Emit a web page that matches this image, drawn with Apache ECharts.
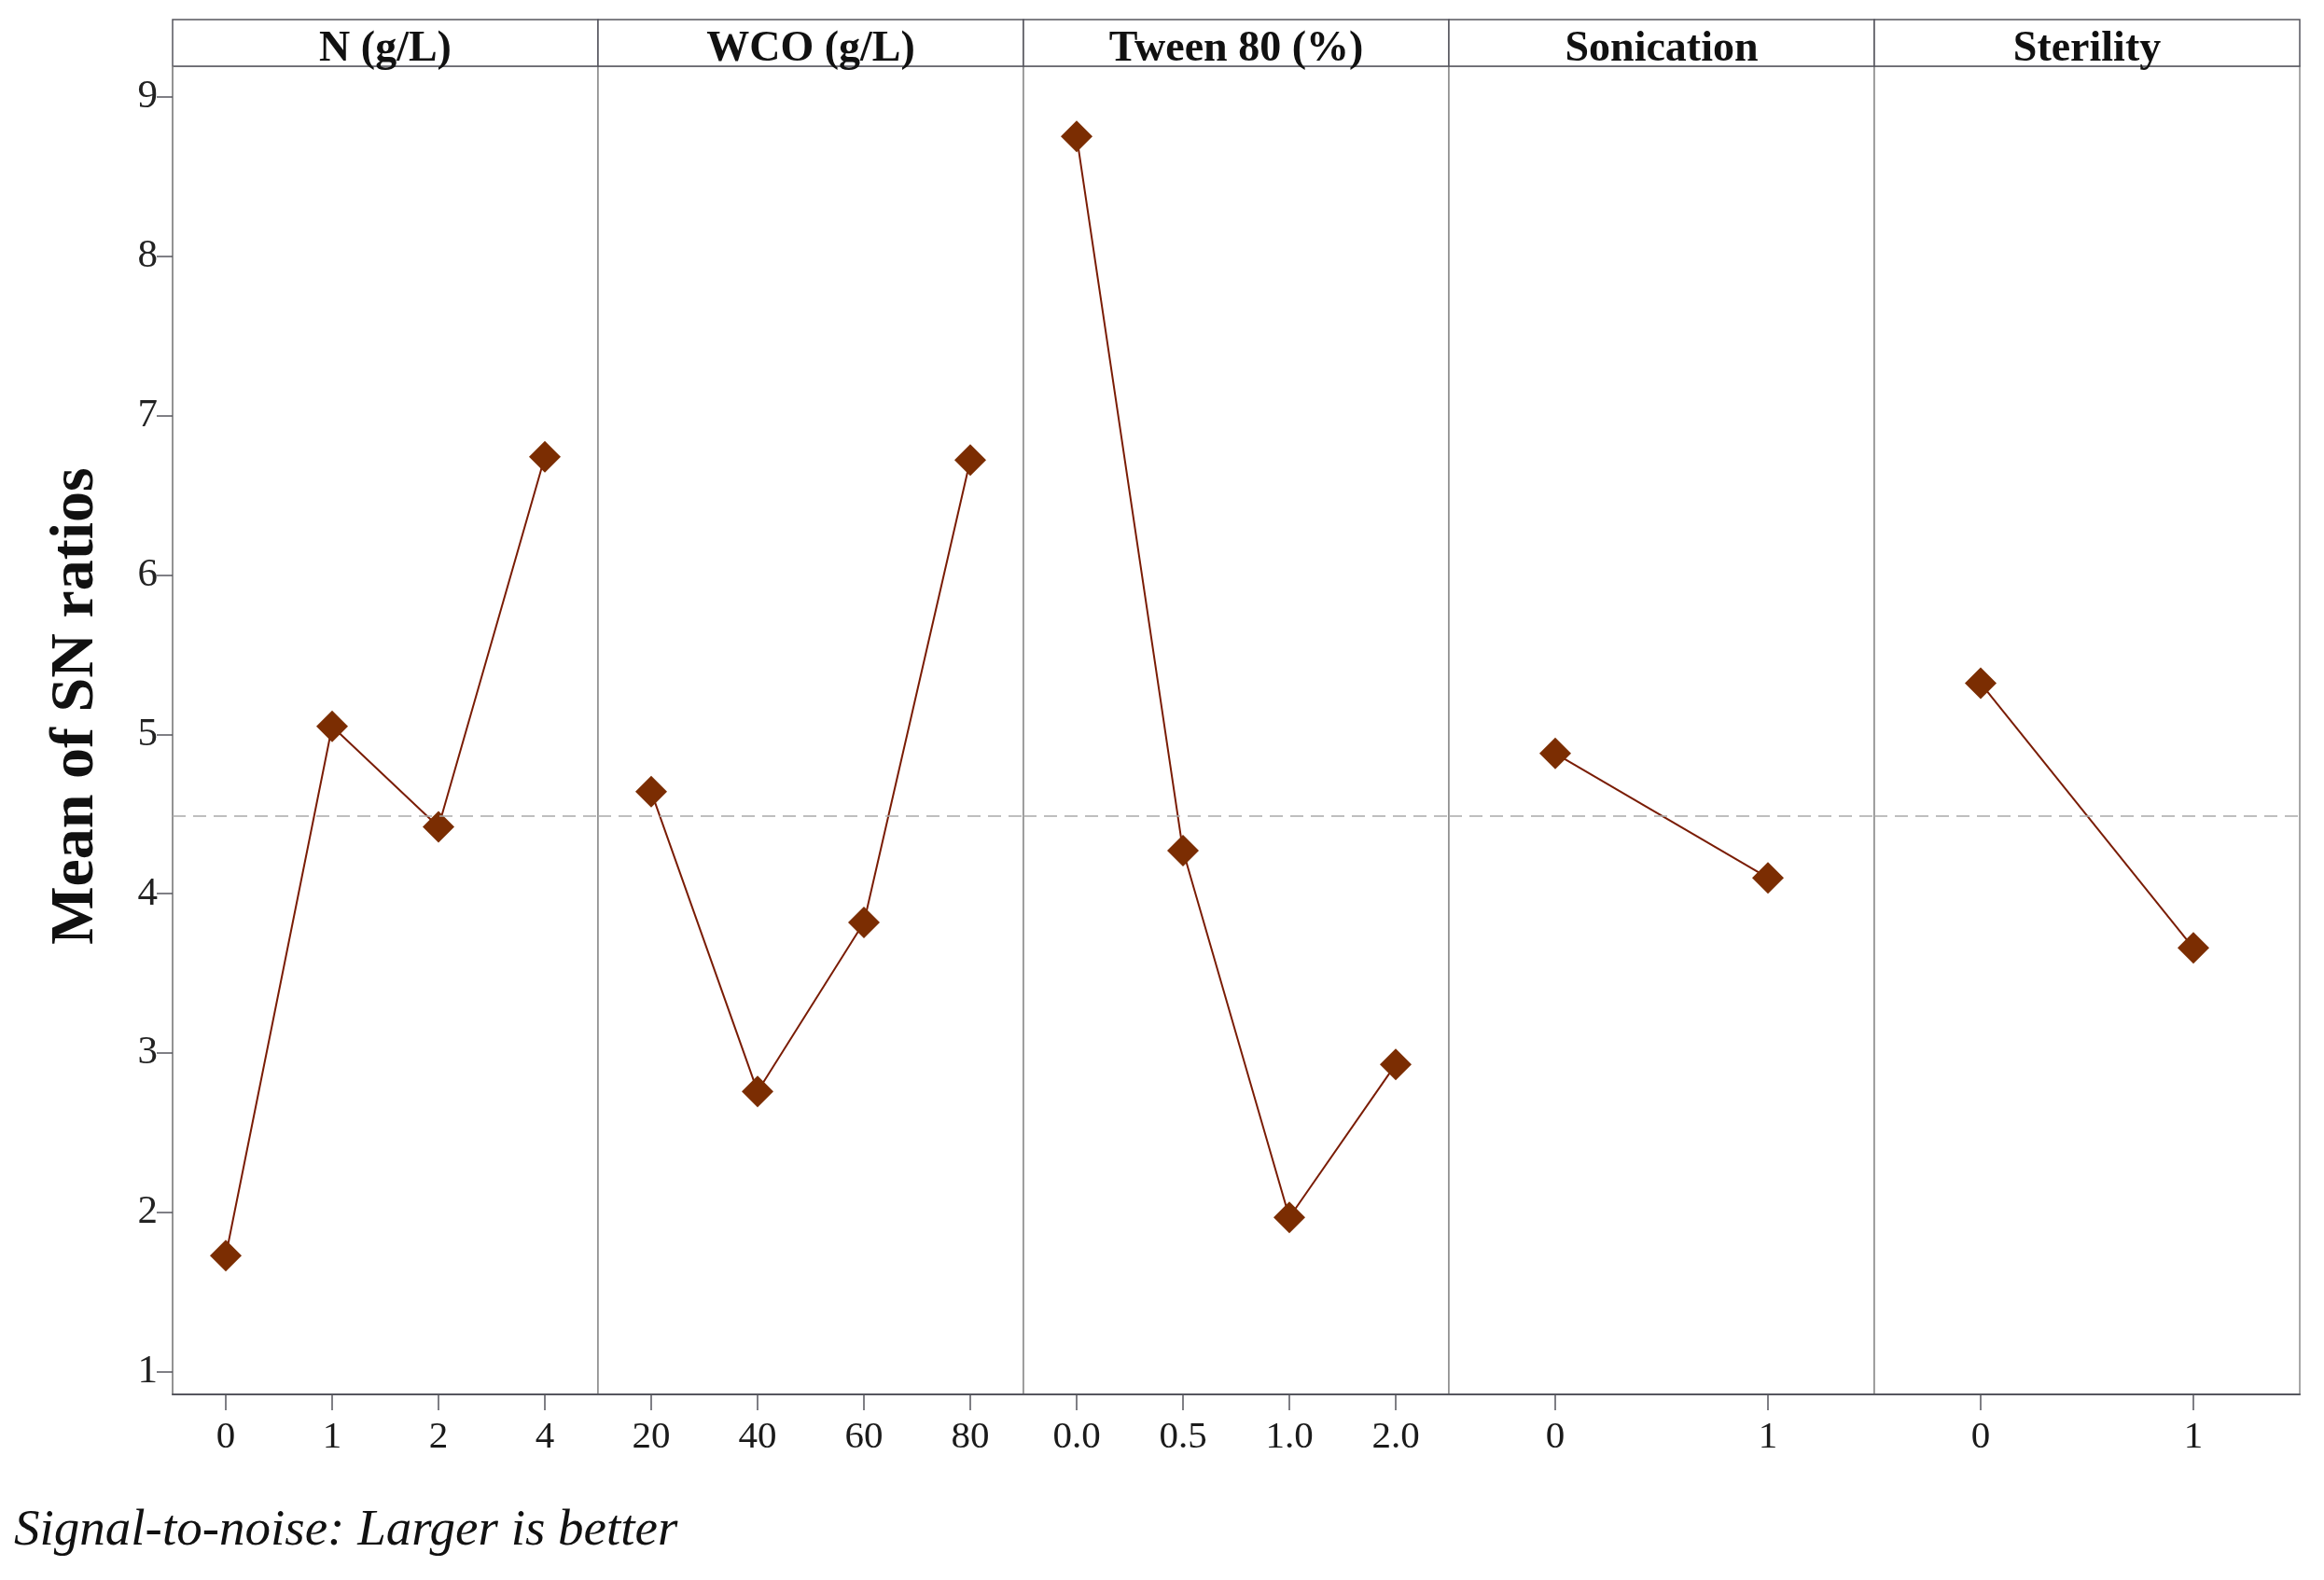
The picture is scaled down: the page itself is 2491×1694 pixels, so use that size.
<!DOCTYPE html>
<html>
<head>
<meta charset="utf-8">
<script src="https://cdn.jsdelivr.net/npm/echarts@6/dist/echarts.min.js"></script>
<style>
  html, body { margin: 0; padding: 0; background: #fff; }
  #chart { width: 2491px; height: 1694px; }
</style>
</head>
<body>
<div id="chart"></div>
<script>
// main effects plot for SN ratios (Taguchi)
const factors = ["N (g/L)", "WCO (g/L)", "Tween 80 (%)", "Sonication", "Sterility"];

const nLevels = ["0", "1", "2", "4"];
const nSN = [1.73, 5.05, 4.42, 6.74];

const wcoLevels = ["20", "40", "60", "80"];
const wcoSN = [4.64, 2.76, 3.82, 6.72];

const tweenLevels = ["0.0", "0.5", "1.0", "2.0"];
const tweenSN = [8.75, 4.27, 1.97, 2.93];

const sonLevels = ["0", "1"];
const sonSN = [4.88, 4.10];

const sterLevels = ["0", "1"];
const sterSN = [5.32, 3.66];

const yTicks = [1, 2, 3, 4, 5, 6, 7, 8, 9];

const levels = [nLevels, wcoLevels, tweenLevels, sonLevels, sterLevels];
const values = [nSN, wcoSN, tweenSN, sonSN, sterSN];

// grand mean of the SN ratios (mean of each factor's level means)
const grandMean = values.reduce((s, v) => s + v.reduce((a, b) => a + b, 0) / v.length, 0) / values.length;

const serif = "Liberation Serif";
const left0 = 185, panelW = 456, plotTop = 71, plotH = 1424, headH = 50;

var myChart = echarts.init(document.getElementById("chart"));

const grids = [], xAxes = [], yAxes = [], series = [], graphics = [];

factors.forEach((name, i) => {
  grids.push({
    left: left0 + i * panelW, top: plotTop, width: panelW, height: plotH,
    show: true, borderColor: "#8c8c8c", borderWidth: 1.5, backgroundColor: "#fff"
  });
  xAxes.push({
    type: "category", gridIndex: i, data: levels[i], boundaryGap: true,
    axisLine: { show: true, lineStyle: { color: "#55565e", width: 2 } },
    axisTick: { show: true, alignWithLabel: true, length: 17, lineStyle: { color: "#55565e", width: 1.5 } },
    axisLabel: { fontFamily: serif, fontSize: 41, color: "#1a1a1a", margin: 26 },
    splitLine: { show: false }
  });
  yAxes.push({
    type: "value", gridIndex: i, min: 0.86, max: 9.19,
    axisLine: { show: i === 0, lineStyle: { color: "#8c8c8c", width: 1.5 } },
    axisTick: { show: i === 0, length: 17, customValues: yTicks, lineStyle: { color: "#55565e", width: 1.5 } },
    axisLabel: { show: i === 0, customValues: yTicks, fontFamily: serif, fontSize: 43, color: "#222", margin: 16 },
    splitLine: { show: false }
  });
  series.push({
    type: "line", xAxisIndex: i, yAxisIndex: i, data: values[i],
    symbol: "diamond", symbolSize: 34, showSymbol: true,
    itemStyle: { color: "#7b2d02" },
    lineStyle: { color: "#7a1c04", width: 2 },
    markLine: {
      silent: true, symbol: "none", label: { show: false },
      lineStyle: { type: [14, 8], color: "#ababab", width: 1.5 },
      data: [{ yAxis: grandMean }]
    },
    z: 3
  });
  // panel header box
  graphics.push({
    type: "rect",
    shape: { x: left0 + i * panelW, y: plotTop - headH, width: panelW, height: headH },
    style: { fill: "#fff", stroke: "#55565e", lineWidth: 1.5 }
  });
  graphics.push({
    type: "text",
    x: left0 + i * panelW + panelW / 2, y: plotTop - headH / 2 + 7,
    style: {
      text: name, fill: "#111", font: "bold 46px " + serif,
      textAlign: "center", textVerticalAlign: "middle"
    },
    z: 10
  });
});

// y axis title
graphics.push({
  type: "text",
  x: 82, y: 757, rotation: Math.PI / 2,
  style: {
    text: "Mean of SN ratios", fill: "#111", font: "bold 66px " + serif,
    textAlign: "center", textVerticalAlign: "middle"
  }
});
// footnote
graphics.push({
  type: "text",
  left: 15, top: 1614,
  style: { text: "Signal-to-noise: Larger is better", fill: "#111", font: "italic 55px " + serif }
});

myChart.setOption({
  animation: false,
  backgroundColor: "#fff",
  grid: grids,
  xAxis: xAxes,
  yAxis: yAxes,
  series: series,
  graphic: graphics
});
</script>
</body>
</html>
